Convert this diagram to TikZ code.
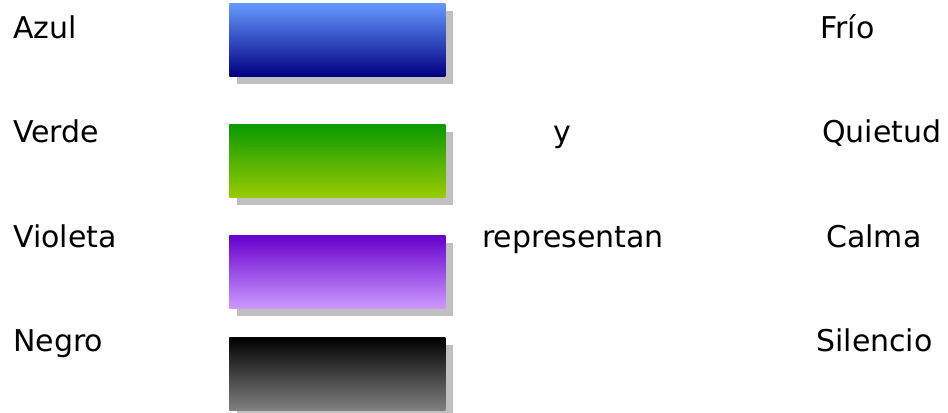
\documentclass[tikz,border=0pt]{standalone}
\usepackage{fontspec}
\setmainfont{DejaVu Sans}
\usetikzlibrary{shadows}

\definecolor{azulTop}{HTML}{6699FF}
\definecolor{azulBot}{HTML}{000080}
\definecolor{verdeTop}{HTML}{0A9900}
\definecolor{verdeBot}{HTML}{99CC00}
\definecolor{violetaTop}{HTML}{6600CC}
\definecolor{violetaBot}{HTML}{CC99FF}
\definecolor{negroTop}{HTML}{000000}
\definecolor{negroBot}{HTML}{808080}
\definecolor{shadowgray}{HTML}{C0C0C0}

\begin{document}
\begin{tikzpicture}[
    x=0.75pt, y=-0.75pt,
    word/.style={anchor=base west, inner sep=0pt, font=\fontsize{22.5pt}{27pt}\selectfont},
    swatch/.style={rectangle, anchor=north west, inner sep=0pt, minimum width=162pt, minimum height=54.75pt,
        drop shadow={shadow xshift=6pt, shadow yshift=-6pt, fill=shadowgray, opacity=1}}
]
\useasboundingbox (0,0) rectangle (948,412);

% Colour names
\node[word] (azul) at (13,38) {Azul};
\node[word] (verde) at (13,142) {Verde};
\node[word] (violeta) at (13,247) {Violeta};
\node[word] (negro) at (13,351) {Negro};

% Colour swatches
\node[swatch, top color=azulTop, bottom color=azulBot] (azulbox) at (229,3) {};
\node[swatch, top color=verdeTop, bottom color=verdeBot] (verdebox) at (229,124) {};
\node[swatch, top color=violetaTop, bottom color=violetaBot] (violetabox) at (229,235) {};
\node[swatch, top color=negroTop, bottom color=negroBot] (negrobox) at (229,337) {};

% Middle words
\node[word, anchor=base] (y) at (562,142) {y};
\node[word] (repr) at (482,247) {representan};

% Meanings
\node[word] (frio) at (820,38) {Frío};
\node[word] (quietud) at (822,142) {Quietud};
\node[word] (calma) at (826,247) {Calma};
\node[word] (silencio) at (816,351) {Silencio};

\end{tikzpicture}
\end{document}
